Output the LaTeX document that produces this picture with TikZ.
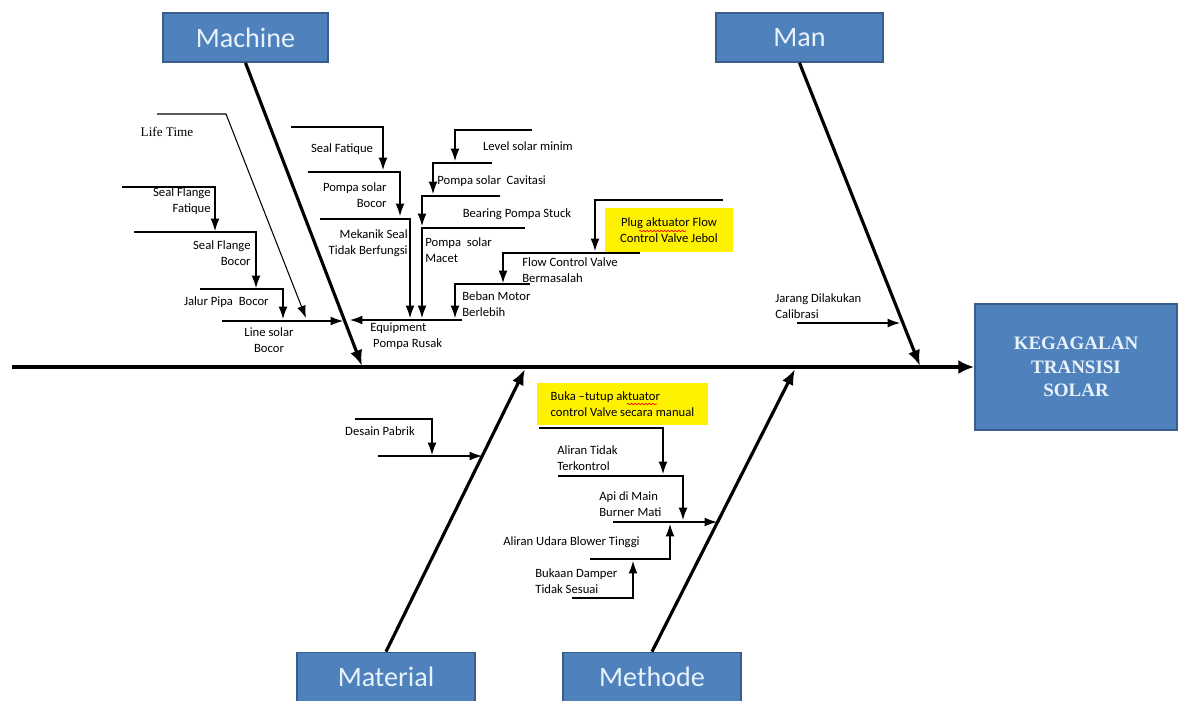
\documentclass[tikz,border=0pt]{standalone}
\usepackage{fontspec}
\setmainfont{Carlito}
\newfontfamily\serifface{Liberation Serif}
\usetikzlibrary{arrows.meta,decorations.pathmorphing}

\definecolor{boxblue}{RGB}{79,129,189}
\definecolor{boxedge}{RGB}{56,93,138}
\definecolor{boxtext}{RGB}{232,242,250}
\definecolor{hilite}{RGB}{255,242,0}

\tikzset{
  cause/.style={font=\fontsize{7.2}{8.8}\selectfont, inner sep=0pt},
  catbox/.style={draw=boxedge, line width=1pt, fill=boxblue, text=boxtext,
    font=\fontsize{16}{18}\selectfont, minimum width=3.3cm, minimum height=0.98cm},
  note/.style={fill=hilite, font=\fontsize{7.2}{8.8}\selectfont, inner sep=0pt},
  twig/.style={line width=0.6pt, -{Latex[length=7pt,width=5pt]}},
  bone/.style={line width=1.8pt, -{Latex[length=9pt,width=7pt]}},
  spine/.style={line width=2pt, -{Latex[length=9pt,width=8pt]}},
  squiggle/.style={red, line width=0.4pt, decorate,
    decoration={snake, amplitude=0.4pt, segment length=2pt}}
}

\begin{document}
\begin{tikzpicture}[x=0.02cm, y=-0.02cm]
    \useasboundingbox (0,0) rectangle (1185,700);

    % category boxes and the effect
    \node[catbox] (machine) at (245.5,37.5) {Machine};
    \node[catbox, minimum width=3.34cm] (man) at (799.5,37.5) {Man};
    \node[catbox, minimum width=3.56cm] (material) at (386,677) {Material};
    \node[catbox, minimum width=3.56cm] (methode) at (652,677) {Methode};
    \node[draw=boxedge, line width=1pt, fill=boxblue, text=boxtext, align=center,
          font=\serifface\bfseries\fontsize{10.8}{13.3}\selectfont,
          minimum width=4.04cm, minimum height=2.52cm] (effect) at (1076,367)
          {KEGAGALAN\\TRANSISI\\SOLAR};

    \coordinate (SpineL)  at (12,367);
    \coordinate (MachTip) at (362,366);
    \coordinate (ManTip)  at (920,366);
    \coordinate (MatTip)  at (525,369);
    \coordinate (MetTip)  at (795,369);

    \draw[spine] (SpineL) -- (effect.west);% main line
    \draw[bone] (machine.south) -- (MachTip);
    \draw[bone] (man.south) -- (ManTip);
    \draw[bone] (material.north) -- (MatTip);
    \draw[bone] (methode.north) -- (MetTip);

    % Machine, left of the bone
    \coordinate (LifeA) at (157,114);
    \coordinate (LifeB) at (226,114);
    \coordinate (LifeTip) at (306,318);
    \coordinate (FatA) at (122,187);
    \coordinate (FatB) at (215,187);
    \coordinate (FatTip) at (215,231);
    \coordinate (FlgA) at (134,232);
    \coordinate (FlgB) at (256,232);
    \coordinate (FlgTip) at (256,288);
    \coordinate (JalA) at (200,289);
    \coordinate (JalB) at (283,289);
    \coordinate (JalTip) at (283,319);
    \coordinate (LineA) at (222,321);
    \coordinate (LineTip) at (343,321);
    \draw[twig] (LifeA) -- (LifeB) -- (LifeTip);
    \draw[twig] (FatA) -- (FatB) -- (FatTip);
    \draw[twig] (FlgA) -- (FlgB) -- (FlgTip);
    \draw[twig] (JalA) -- (JalB) -- (JalTip);
    \draw[twig] (LineA) -- (LineTip);
    \node[cause, font=\serifface\fontsize{7.5}{9}\selectfont] (life) at (167,132) {Life Time};
    \node[cause, align=right, anchor=east] (fatique) at (211,201) {Seal Flange\\Fatique};
    \node[cause, align=right, anchor=east] (flange) at (251,253) {Seal Flange\\Bocor};
    \node[cause, anchor=east] (jalur) at (269,302) {Jalur Pipa\ \ Bocor};
    \node[cause, align=center] (line) at (269,340) {Line solar\\Bocor};

    % Machine, right of the bone
    \coordinate (SealA) at (291,127);
    \coordinate (SealB) at (383,127);
    \coordinate (SealTip) at (383,170);
    \coordinate (BocA) at (308,172);
    \coordinate (BocB) at (400,172);
    \coordinate (BocTip) at (400,216);
    \coordinate (MekA) at (320,219);
    \coordinate (MekB) at (410,219);
    \coordinate (MekTip) at (410,318);
    \coordinate (EquA) at (462,320);
    \coordinate (EquTip) at (350,320);
    \coordinate (LvlA) at (532,130);
    \coordinate (LvlB) at (455,130);
    \coordinate (LvlTip) at (455,161);
    \coordinate (CavA) at (492,163);
    \coordinate (CavB) at (433,163);
    \coordinate (CavTip) at (433,194);
    \coordinate (BrgA) at (500,196);
    \coordinate (BrgB) at (422,196);
    \coordinate (BrgTip) at (422,226);
    \coordinate (MacA) at (525,228);
    \coordinate (MacB) at (422,228);
    \coordinate (MacTip) at (422,318);
    \coordinate (PlugA) at (723,200);
    \coordinate (PlugB) at (595,200);
    \coordinate (PlugTip) at (595,251);
    \coordinate (FcvA) at (640,253);
    \coordinate (FcvB) at (503,253);
    \coordinate (FcvTip) at (503,283);
    \coordinate (BebA) at (530,284);
    \coordinate (BebB) at (455,284);
    \coordinate (BebTip) at (455,318);
    \draw[twig] (SealA) -- (SealB) -- (SealTip);
    \draw[twig] (BocA) -- (BocB) -- (BocTip);
    \draw[twig] (MekA) -- (MekB) -- (MekTip);
    \draw[twig] (EquA) -- (EquTip);
    \draw[twig] (LvlA) -- (LvlB) -- (LvlTip);
    \draw[twig] (CavA) -- (CavB) -- (CavTip);
    \draw[twig] (BrgA) -- (BrgB) -- (BrgTip);
    \draw[twig] (MacA) -- (MacB) -- (MacTip);
    \draw[twig] (PlugA) -- (PlugB) -- (PlugTip);
    \draw[twig] (FcvA) -- (FcvB) -- (FcvTip);
    \draw[twig] (BebA) -- (BebB) -- (BebTip);
    \node[cause] (sealfat) at (342,149) {Seal Fatique};
    \node[cause, align=right, anchor=east] (bocor) at (387,195) {Pompa solar\\Bocor};
    \node[cause, align=right, anchor=east] (mekanik) at (408,243) {Mekanik Seal\\Tidak Berfungsi};
    \node[cause, align=left, anchor=west] (equip) at (370,336) {Equipment\\\ Pompa Rusak};
    \node[cause] (level) at (528,146) {Level solar minim};
    \node[cause, anchor=west] (cavit) at (437,181) {Pompa solar\ \ Cavitasi};
    \node[cause] (bearing) at (517,214) {Bearing Pompa Stuck};
    \node[cause, align=left, anchor=west] (macet) at (425,250) {Pompa\ \ solar\\Macet};
    \node[note, align=center, minimum width=2.56cm, minimum height=0.88cm] (plug) at (669,230)
          {Plug aktuator Flow\\Control Valve Jebol};
    \draw[squiggle] (639,231) -- (686,231);
    \node[cause, align=left, anchor=west] (fcv) at (522,270) {Flow Control Valve\\Bermasalah};
    \node[cause, align=left, anchor=west] (beban) at (462,304) {Beban Motor\\Berlebih};

    % Man
    \coordinate (JarA) at (797,323);
    \coordinate (JarTip) at (900,323);
    \draw[twig] (JarA) -- (JarTip);
    \node[cause, align=left, anchor=west] (jarang) at (775,306) {Jarang Dilakukan\\Calibrasi};

    % Material
    \coordinate (DesA) at (355,419);
    \coordinate (DesB) at (432,419);
    \coordinate (DesTip) at (432,455);
    \coordinate (DsgA) at (378,456);
    \coordinate (DsgTip) at (482,456);
    \draw[twig] (DesA) -- (DesB) -- (DesTip);
    \draw[twig] (DsgA) -- (DsgTip);
    \node[cause] (desain) at (380,431) {Desain Pabrik};

    % Methode
    \coordinate (BukA) at (539,428);
    \coordinate (BukB) at (663,428);
    \coordinate (BukTip) at (663,474);
    \coordinate (AliA) at (558,476);
    \coordinate (AliB) at (683,476);
    \coordinate (AliTip) at (683,520);
    \coordinate (ApiA) at (613,522);
    \coordinate (ApiTip) at (717,522);
    \coordinate (UdrA) at (590,559);
    \coordinate (UdrB) at (670,559);
    \coordinate (UdrTip) at (670,524);
    \coordinate (DmpA) at (572,598);
    \coordinate (DmpB) at (633,598);
    \coordinate (DmpTip) at (633,561);
    \node[note, align=left, minimum width=3.42cm, minimum height=0.84cm] (buka) at (622.5,404)
          {Buka –tutup aktuator\\control Valve secara manual};
    \draw[squiggle] (627,404) -- (657,404);
    \draw[twig] (BukA) -- (BukB) -- (BukTip);
    \draw[twig] (AliA) -- (AliB) -- (AliTip);
    \draw[twig] (ApiA) -- (ApiTip);
    \draw[twig] (UdrA) -- (UdrB) -- (UdrTip);
    \draw[twig] (DmpA) -- (DmpB) -- (DmpTip);
    \node[cause, align=left, anchor=west] (aliran) at (557,458) {Aliran Tidak\\Terkontrol};
    \node[cause, align=left, anchor=west] (api) at (599,504) {Api di Main\\Burner Mati};
    \node[cause, anchor=west] (udara) at (503,542) {Aliran Udara Blower Tinggi};
    \node[cause, align=left, anchor=west] (damper) at (535,581) {Bukaan Damper\\Tidak Sesuai};
\end{tikzpicture}
\end{document}
